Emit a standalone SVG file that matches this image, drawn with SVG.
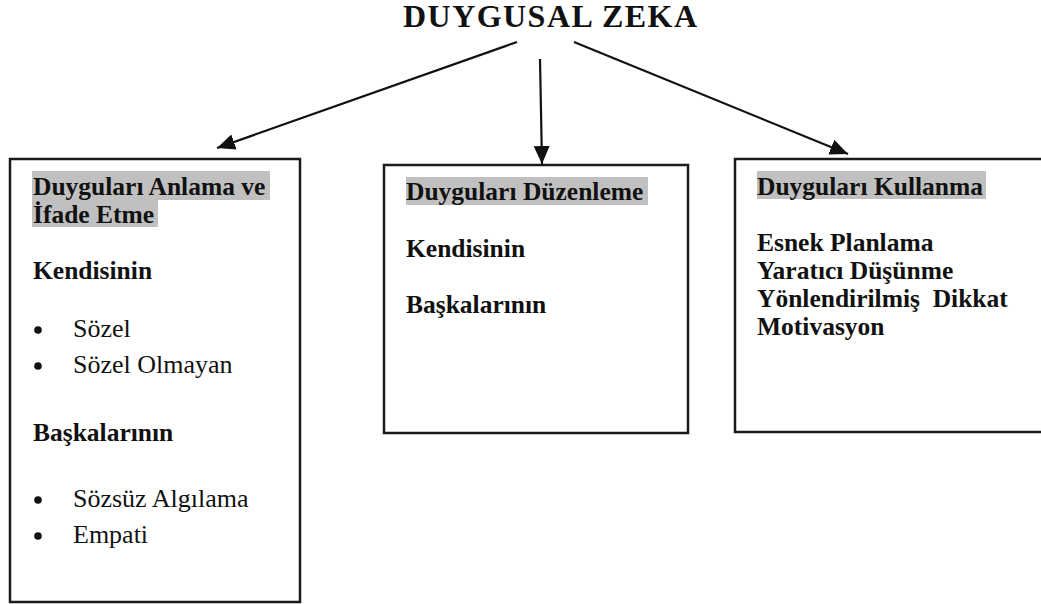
<svg xmlns="http://www.w3.org/2000/svg" width="1041" height="604" viewBox="0 0 1041 604">
  <style>
    .box { fill: #ffffff; stroke: #1a1a1a; stroke-width: 2.5; }
    .hl { fill: #c0c0c0; }
    .title { font-family: "Liberation Serif", "Times New Roman", serif; font-size: 32px; font-weight: bold; fill: #111; }
    .b { font-family: "Liberation Serif", "Times New Roman", serif; font-size: 25.5px; font-weight: bold; fill: #111; }
    .r { font-family: "Liberation Serif", "Times New Roman", serif; font-size: 26px; fill: #111; }
    .edge { stroke: #111; stroke-width: 2.2; fill: none; marker-end: url(#head); }
  </style>
  <defs>
    <marker id="head" markerUnits="userSpaceOnUse" markerWidth="20" markerHeight="18" refX="18" refY="8" orient="auto">
      <path d="M0,0 L18,8 L0,16 z" fill="#111"/>
    </marker>
  </defs>

  <rect width="1041" height="604" fill="#ffffff"/>

  <g id="title">
    <text class="title" x="403" y="27" textLength="294" lengthAdjust="spacing">DUYGUSAL ZEKA</text>
  </g>

  <g id="connectors">
    <line class="edge" x1="517" y1="42" x2="217" y2="148"/>
    <line class="edge" x1="540" y1="59" x2="542" y2="164"/>
    <line class="edge" x1="574" y1="42" x2="848" y2="154"/>
  </g>

  <g id="anlama">
    <rect class="box" x="10" y="159" width="290" height="443"/>
    <rect class="hl" x="32" y="171" width="238" height="29"/>
    <rect class="hl" x="32" y="200" width="126" height="27"/>
    <text class="b" x="33" y="194.5">Duyguları Anlama ve</text>
    <text class="b" x="33" y="223">İfade Etme</text>
    <text class="b" x="33" y="279">Kendisinin</text>
    <circle cx="38" cy="330" r="3.8" fill="#111"/>
    <text class="r" x="73" y="337">Sözel</text>
    <circle cx="38" cy="366" r="3.8" fill="#111"/>
    <text class="r" x="73" y="373">Sözel Olmayan</text>
    <text class="b" x="33" y="441">Başkalarının</text>
    <circle cx="38" cy="500" r="3.8" fill="#111"/>
    <text class="r" x="73" y="507">Sözsüz Algılama</text>
    <circle cx="38" cy="536" r="3.8" fill="#111"/>
    <text class="r" x="73" y="543">Empati</text>
  </g>

  <g id="duzenleme">
    <rect class="box" x="384" y="165" width="304" height="268"/>
    <rect class="hl" x="406" y="177" width="242" height="28"/>
    <text class="b" x="406" y="200">Duyguları Düzenleme</text>
    <text class="b" x="406" y="257">Kendisinin</text>
    <text class="b" x="406" y="313">Başkalarının</text>
  </g>

  <g id="kullanma">
    <rect class="box" x="735" y="159" width="320" height="273"/>
    <rect class="hl" x="757" y="171" width="229" height="28"/>
    <text class="b" x="757" y="195">Duyguları Kullanma</text>
    <text class="b" x="757" y="251">Esnek Planlama</text>
    <text class="b" x="757" y="279">Yaratıcı Düşünme</text>
    <text class="b" x="757" y="307" xml:space="preserve">Yönlendirilmiş  Dikkat</text>
    <text class="b" x="757" y="335">Motivasyon</text>
  </g>
</svg>
